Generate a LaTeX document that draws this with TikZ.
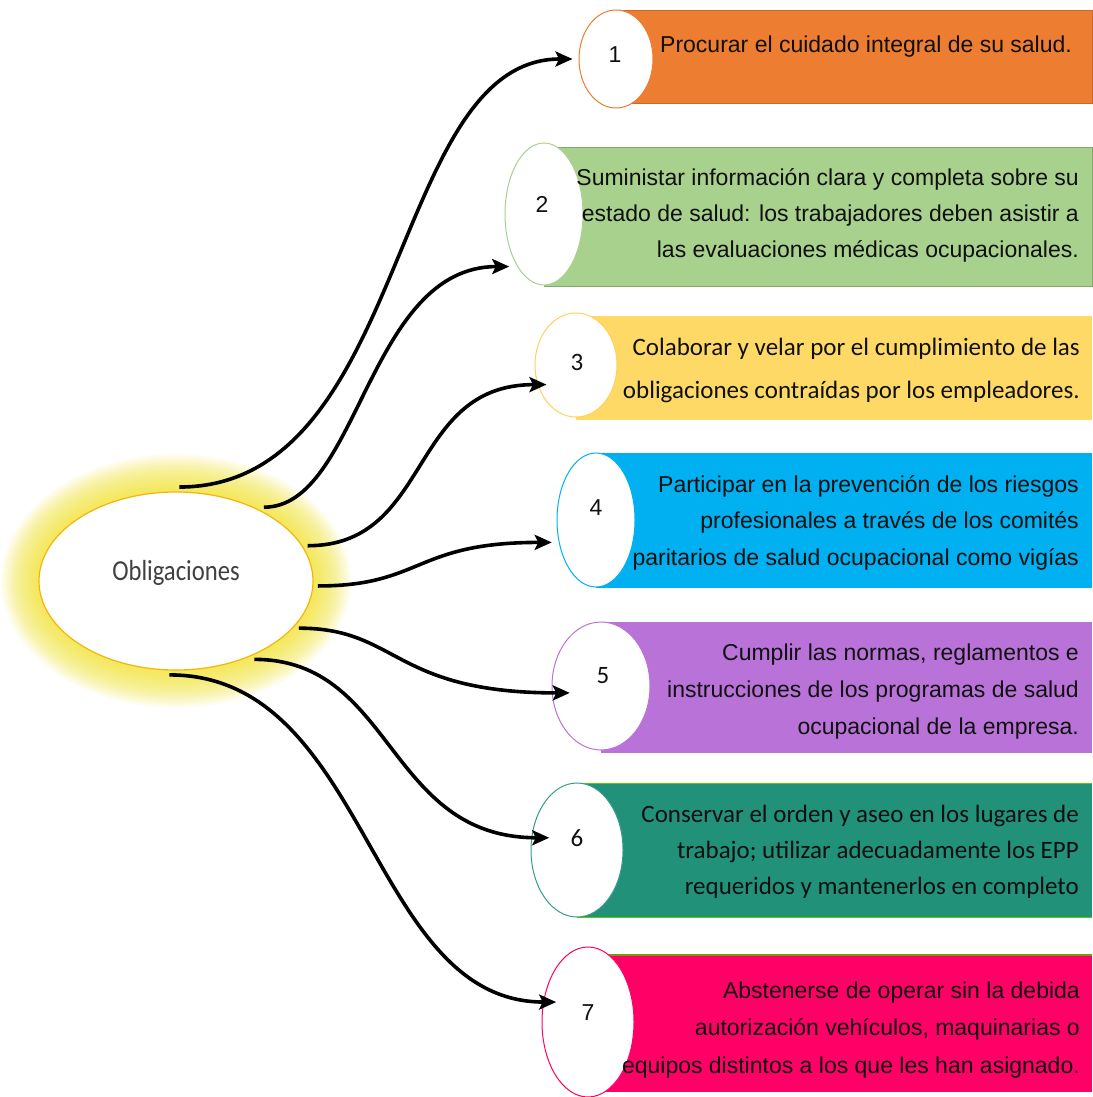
\documentclass[tikz,border=0pt]{standalone}
\usepackage{fontspec}
\usetikzlibrary{arrows.meta,shapes.geometric}
\newfontfamily\arialf{Liberation Sans}
\newfontfamily\calf{Carlito}
\definecolor{cOne}{HTML}{ED7D31}
\definecolor{cTwo}{HTML}{A9D18E}
\definecolor{cThree}{HTML}{FFD966}
\definecolor{cFour}{HTML}{00B0F0}
\definecolor{cFive}{HTML}{B972D8}
\definecolor{cSix}{HTML}{21917A}
\definecolor{cSeven}{HTML}{FF0066}
\definecolor{glowc}{HTML}{F5E52A}
\definecolor{oblborder}{HTML}{F2B705}
\definecolor{txtc}{HTML}{101010}
\newcommand{\rtab}[1]{\begin{tabular}[t]{@{}r@{}}#1\end{tabular}}
\begin{document}
\begin{tikzpicture}[x=1pt,y=-1pt,
  ell/.style={ellipse, fill=white, line width=1pt, inner sep=0pt},
  conn/.style={line width=3.6pt, black, -{Stealth[length=17pt,width=15pt,inset=3.5pt]}},
  txt/.style={inner sep=0pt, anchor=base east, text=txtc},
  arialtxt/.style={font=\arialf\fontsize{23}{#1}\selectfont},
  caltxt/.style={font=\calf\fontsize{25}{#1}\selectfont},
  numa/.style={inner sep=0pt, text=txtc, font=\arialf\fontsize{23}{23}\selectfont},
  numc/.style={inner sep=0pt, text=txtc, font=\calf\fontsize{25}{25}\selectfont}]
\useasboundingbox (0,0) rectangle (1092,1097);
\fill[white] (0,0) rectangle (1092,1097);
% glow
\foreach \i in {1,...,18}{
  \fill[glowc, fill opacity=0.07] (176,581) ellipse [x radius={137pt+2.1pt*\i}, y radius={89pt+2.1pt*\i}];
}
\node[ellipse, draw=oblborder, fill=white, line width=1.2pt, minimum width=274pt, minimum height=178pt, inner sep=0pt, outer sep=5pt] (obl) at (176,581) {};
\node[inner sep=0pt, anchor=base, text=black!75, font=\calf\fontsize{29}{29}\selectfont] (lbl) at (176,580) {\scalebox{0.85}[1]{Obligaciones}};
% boxes
\fill[cOne] (616,10) rectangle (1092,103);
\draw[cOne!85!black, line width=0.8pt] (616,10) -- (1092,10) -- (1092,103) -- (616,103);
\fill[cTwo] (544,147) rectangle (1092,286);
\draw[cTwo!80!black, line width=0.8pt] (544,147) -- (1092,147) -- (1092,286) -- (544,286);
\fill[cThree] (576,316) rectangle (1092,420);
\fill[cFour] (596,453) rectangle (1092,588);
\fill[cFive] (601,622) rectangle (1092,753);
\fill[cSix] (577,783) rectangle (1092,917);
\draw[green!55!yellow!80!black, line width=1pt] (577,783) -- (1092,783);
\draw[green!55!yellow!80!black, line width=1pt] (577,917) -- (1092,917);
\fill[cSeven] (588,955) rectangle (1092,1092);
\draw[olive!70!green, line width=1.2pt] (588,955) -- (1092,955);
% ellipses
\node[ell, draw=cOne, minimum width=74pt, minimum height=98pt] (e1) at (616,59) {};
\node[ell, draw=cTwo, minimum width=78pt, minimum height=142pt] (e2) at (544,214) {};
\node[ell, draw=cThree!90!orange, minimum width=82pt, minimum height=104pt] (e3) at (576,365) {};
\node[ell, draw=cFour, minimum width=78pt, minimum height=134pt] (e4) at (596,520) {};
\node[ell, draw=cFive, minimum width=98pt, minimum height=128pt] (e5) at (601,686) {};
\node[ell, draw=cSix!90!white, minimum width=92pt, minimum height=134pt] (e6) at (577,850) {};
\node[ell, draw=cSeven, minimum width=92pt, minimum height=150pt] (e7) at (588,1022) {};
% numbers
\node[numa] (n1) at (615,55) {1};
\node[numa] (n2) at (542,204) {2};
\node[numc] (n3) at (577,362) {3};
\node[numa] (n4) at (596,508) {4};
\node[numc] (n5) at (603,676) {5};
\node[numc] (n6) at (577,838) {6};
\node[numa] (n7) at (588,1013) {7};
% connectors
\draw[conn, shorten >=6pt] (obl.88) .. controls +(230,0) and +(-190,0) .. (e1.180);
\draw[conn, shorten >=8pt] (obl.40) .. controls +(95,0) and +(-150,0) .. (e2.243.9);
\draw[conn, shorten >=-9pt] (obl.15) .. controls +(125,0) and +(-130,0) .. (e3.207.8);
\draw[conn, shorten >=7pt] (obl.-2.5) .. controls +(105,0) and +(-145,0) .. (e4.211.9);
\draw[conn, shorten >=-18pt] (obl.-21.3) .. controls +(100,0) and +(-160,0) .. (e5.188.1);
\draw[conn, shorten >=-18pt] (obl.-45.3) .. controls +(140,0) and +(-145,0) .. (e6.165);
\draw[conn, shorten >=-13pt] (obl.-94.8) .. controls +(200,0) and +(-175,0) .. (e7.156.9);
% texts
\node[txt, anchor=base west, arialtxt=23] (t1) at (660,53) {Procurar el cuidado integral de su salud.};
\node[txt, arialtxt=36] (t2) at (1079,185) {\rtab{Suministar información clara y completa sobre su\\estado de salud: los trabajadores deben asistir a\\las evaluaciones médicas ocupacionales.}};
\node[txt, caltxt=43] (t3) at (1080,355) {\rtab{Colaborar y velar por el cumplimiento de las\\obligaciones contraídas por los empleadores.}};
\node[txt, arialtxt=36.5] (t4) at (1079,492) {\rtab{Participar en la prevención de los riesgos\\profesionales a través de los comités\\paritarios de salud ocupacional como vigías}};
\node[txt, arialtxt=37] (t5) at (1079,660) {\rtab{Cumplir las normas, reglamentos e\\instrucciones de los programas de salud\\ocupacional de la empresa.}};
\node[txt, caltxt=36] (t6) at (1079,822) {\rtab{Conservar el orden y aseo en los lugares de\\trabajo; utilizar adecuadamente los EPP\\requeridos y mantenerlos en completo}};
\node[txt, arialtxt=37.5] (t7) at (1080,998) {\rtab{Abstenerse de operar sin la debida\\autorización vehículos, maquinarias o\\equipos distintos a los que les han asignado.}};
\end{tikzpicture}
\end{document}
